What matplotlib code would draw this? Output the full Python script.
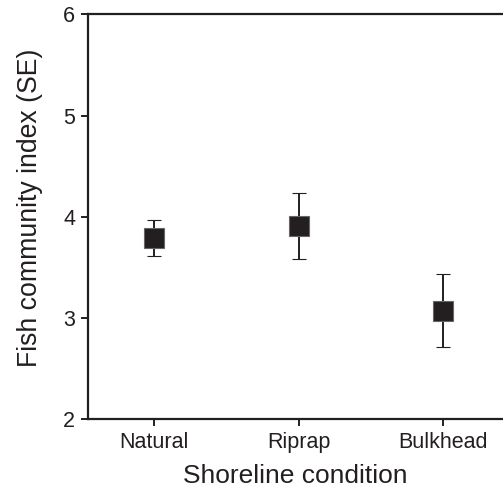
import matplotlib
matplotlib.use("Agg")
import matplotlib.pyplot as plt

categories = ["Natural", "Riprap", "Bulkhead"]
means = [3.79, 3.905, 3.07]
lower = [3.615, 3.579, 2.71]
upper = [3.964, 4.231, 3.431]

plt.rcParams['font.family'] = ['Liberation Sans', 'DejaVu Sans']
col = '#231f20'

fig = plt.figure(figsize=(5.03, 4.94), dpi=100)
ax = fig.add_axes([0.1743, 0.1512, 1 - 0.1743, 0.8198])

x = list(range(len(categories)))
yerr = [[m - l for m, l in zip(means, lower)], [u - m for m, u in zip(means, upper)]]
ax.errorbar(x, means, yerr=yerr, fmt='s', color=col, ecolor=col, markersize=14.5,
            markeredgewidth=0.8, markeredgecolor='#666666', elinewidth=1.4, capsize=4.8, capthick=1.4)

ax.set_xlim(-0.461, 2.413)
ax.set_ylim(2, 6)
ax.set_yticks([2, 3, 4, 5, 6])
ax.set_xticks(x)
ax.set_xticklabels(categories)
ax.spines['right'].set_visible(False)
for s in ['left', 'top', 'bottom']:
    ax.spines[s].set_linewidth(1.6)
    ax.spines[s].set_color(col)
ax.tick_params(axis='both', direction='out', length=5, width=1.4, color=col,
               labelsize=15.5, labelcolor=col, pad=4)
ax.set_xlabel("Shoreline condition", fontsize=19, color=col, labelpad=8)
ax.set_ylabel("Fish community index (SE)", fontsize=19.2, color=col)
ax.yaxis.set_label_coords(-0.108, 0.523)

fig.savefig("out.png", dpi=100)
